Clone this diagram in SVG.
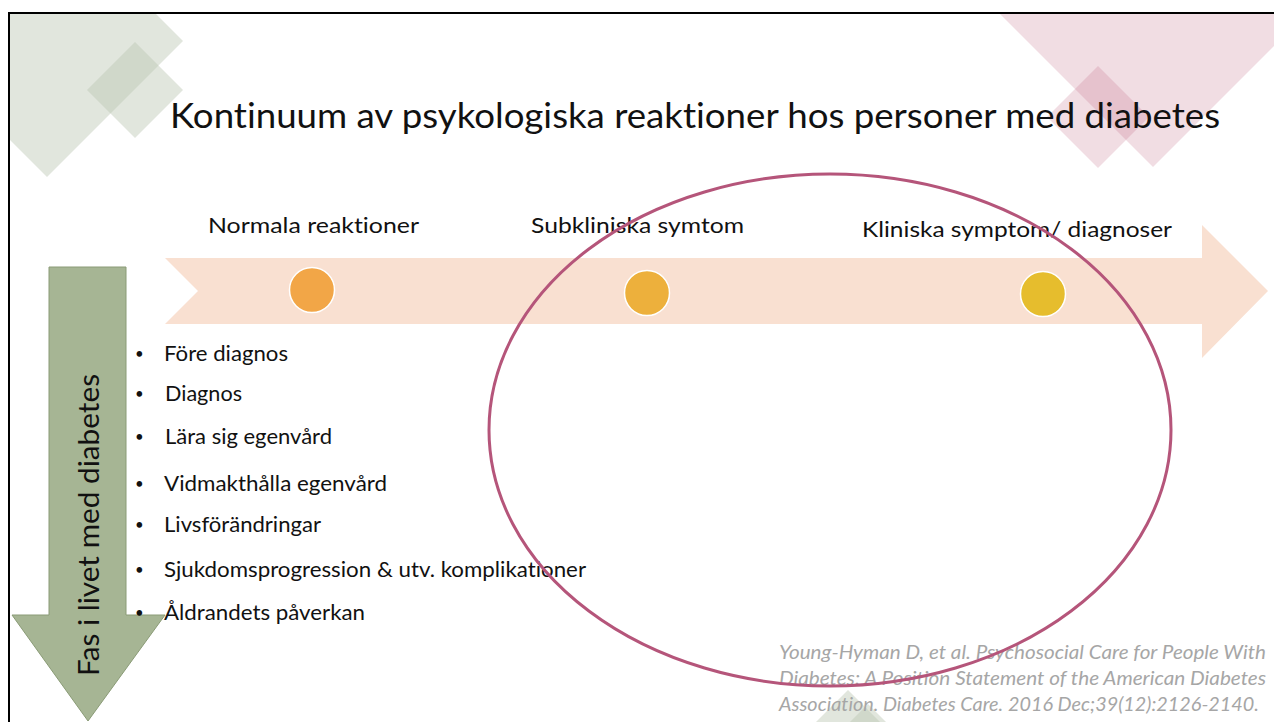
<svg xmlns="http://www.w3.org/2000/svg" width="1274" height="722" viewBox="0 0 1274 722">
<style>
.t{font-family:Lato,"Liberation Sans",sans-serif;fill:#111;font-variant-ligatures:none}
.lab{font-size:22px}
.bul{font-size:21px}
.b{font-size:15px}
.cit{font-family:Lato,"Liberation Sans",sans-serif;font-style:italic;font-size:19px;fill:#a6a6a6;font-variant-ligatures:none}
.gd{fill:rgb(186,197,177);fill-opacity:0.43}
.pd{fill:rgb(190,96,124);fill-opacity:0.21}
.dot{stroke:#fff;stroke-width:1.5}
</style>
<defs>
<clipPath id="slide"><rect x="10" y="14" width="1264" height="708"/></clipPath>
</defs>
<rect x="0" y="0" width="1274" height="722" fill="#fff"/>
<g id="decor" clip-path="url(#slide)">
<polygon class="gd" points="47,-95 183,41 47,177 -89,41"/>
<polygon class="gd" points="135,42 183,90 135,138 87,90"/>
<polygon class="pd" points="1153,-233 1353,-33 1153,167 953,-33"/>
<polygon class="pd" points="1098,66 1149,117 1098,168 1047,117"/>
<polygon class="gd" points="848,690 948,790 848,890 748,790"/>
<polygon class="gd" points="868,704 918,754 868,804 818,754"/>
</g>
<g id="border" stroke="#000" stroke-width="2" fill="none">
<polyline points="1274,13 9,13 9,722"/>
</g>
<g id="title"><text class="t" x="170" y="128" font-size="35" textLength="1050" lengthAdjust="spacingAndGlyphs">Kontinuum av psykologiska reaktioner hos personer med diabetes</text></g>
<g id="continuum-arrow"><polygon points="165,258 1202,258 1202,225 1268,291 1202,358 1202,324 165,324 198,291" fill="#f9e0d1"/></g>
<g id="phase-arrow"><polygon points="49,267 126,267 126,615 165,615 88,721 12,615 49,615" fill="#a6b594" stroke="#8a9b76" stroke-width="1"/>
<text class="t" transform="translate(99,525) rotate(-90)" text-anchor="middle" font-size="28" textLength="302" lengthAdjust="spacingAndGlyphs">Fas i livet med diabetes</text></g>
<g id="node-normal"><circle class="dot" cx="312" cy="290" r="22.5" fill="#f2a647"/>
<text class="t lab" x="208" y="233" textLength="211" lengthAdjust="spacingAndGlyphs">Normala reaktioner</text></g>
<g id="node-subclinical"><circle class="dot" cx="647" cy="293" r="22.5" fill="#edb03c"/>
<text class="t lab" x="531" y="233" textLength="213" lengthAdjust="spacingAndGlyphs">Subkliniska symtom</text></g>
<g id="node-clinical"><circle class="dot" cx="1043" cy="294" r="22.5" fill="#e6bd2d"/>
<text class="t lab" x="862" y="237" textLength="310" lengthAdjust="spacingAndGlyphs">Kliniska symptom/ diagnoser</text></g>
<g id="phases" class="t bul">
<text class="b" x="135" y="359">•</text><text x="164" y="361" textLength="124" lengthAdjust="spacingAndGlyphs">Före diagnos</text>
<text class="b" x="135" y="399">•</text><text x="165" y="401" textLength="77" lengthAdjust="spacingAndGlyphs">Diagnos</text>
<text class="b" x="135" y="442">•</text><text x="165" y="444" textLength="167" lengthAdjust="spacingAndGlyphs">Lära sig egenvård</text>
<text class="b" x="135" y="489">•</text><text x="164" y="491" textLength="223" lengthAdjust="spacingAndGlyphs">Vidmakthålla egenvård</text>
<text class="b" x="135" y="530">•</text><text x="164" y="532" textLength="157" lengthAdjust="spacingAndGlyphs">Livsförändringar</text>
<text class="b" x="135" y="575">•</text><text x="164" y="577" textLength="422" lengthAdjust="spacingAndGlyphs">Sjukdomsprogression &amp; utv. komplikationer</text>
<text class="b" x="135" y="618">•</text><text x="164" y="620" textLength="201" lengthAdjust="spacingAndGlyphs">Åldrandets påverkan</text>
</g>
<g id="citation" class="cit">
<text x="779" y="659" textLength="487" lengthAdjust="spacingAndGlyphs">Young-Hyman D, et al. Psychosocial Care for People With</text>
<text x="779" y="685" textLength="487" lengthAdjust="spacingAndGlyphs">Diabetes: A Position Statement of the American Diabetes</text>
<text x="779" y="711" textLength="480" lengthAdjust="spacingAndGlyphs">Association. Diabetes Care. 2016 Dec;39(12):2126-2140.</text>
</g>
<g id="connectors"><ellipse cx="830" cy="430" rx="341" ry="256" fill="none" stroke="#b5557a" stroke-width="3"/></g>
</svg>
